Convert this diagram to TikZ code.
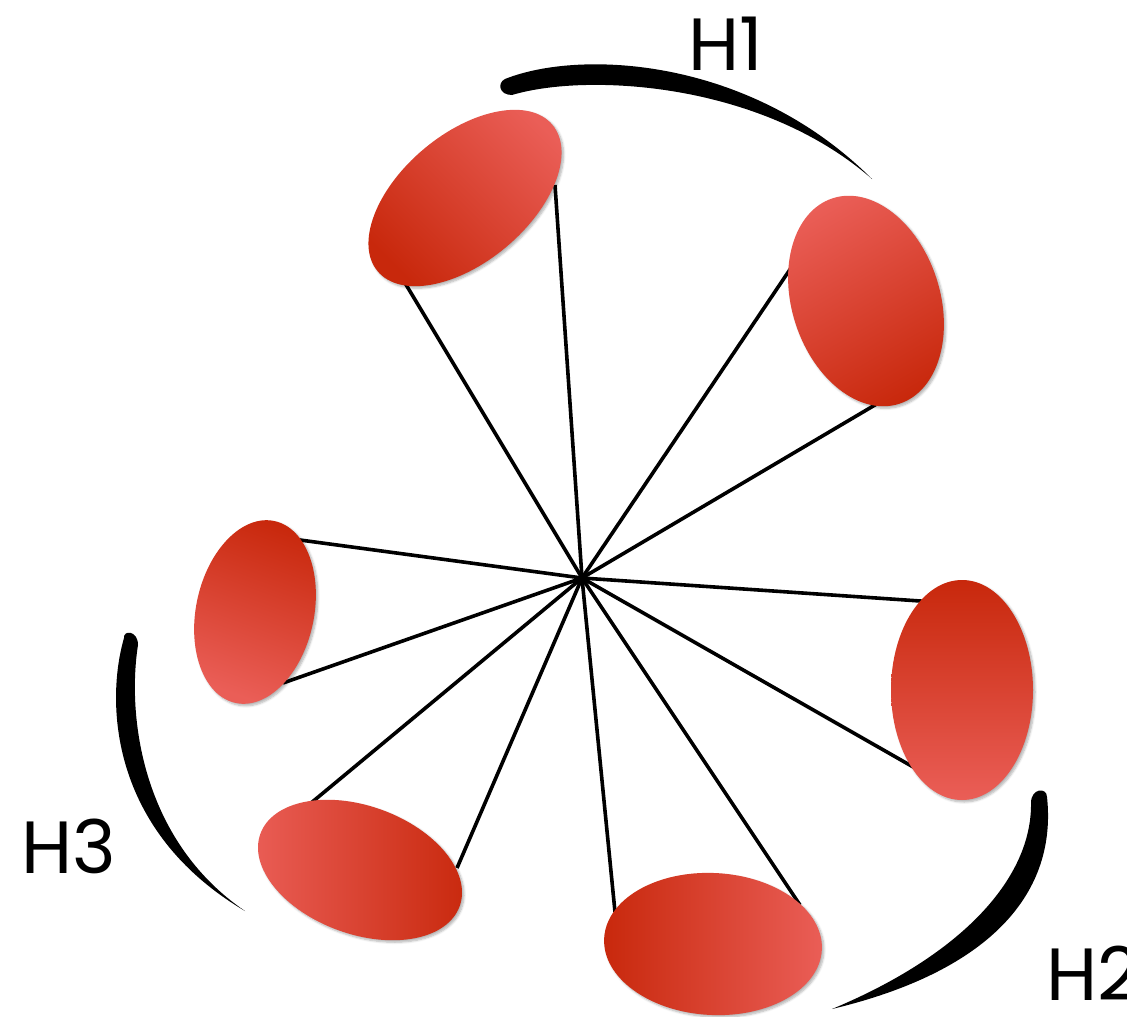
\documentclass[tikz,border=0pt]{standalone}
\usepackage{fontspec}
\setmainfont{Poppins}
\usetikzlibrary{shapes.geometric,shadows.blur}
\definecolor{petaldark}{HTML}{C8280C}
\definecolor{petallight}{HTML}{EA5E57}
\begin{document}
\begin{tikzpicture}[x=1pt,y=-1pt,
  spoke/.style={line width=3.6pt, black},
  petal/.style={ellipse, inner sep=0pt, draw=none,
    blur shadow={shadow xshift=2pt, shadow yshift=-2pt, shadow opacity=30, shadow blur steps=6}},
  % light side of the gradient points along the given angle
  glow/.style={top color=petallight, bottom color=petaldark, shading angle=#1},
  brush/.style={fill=black},
  label/.style={font=\fontsize{74}{80}\selectfont, inner sep=0pt, anchor=base west}]
\useasboundingbox (0,0) rectangle (1127,1017);

% hub and spoke ends
\coordinate (hub) at (582,578);
\coordinate (e1a) at (405,283); \coordinate (e1b) at (555,185);
\coordinate (e2a) at (795,262); \coordinate (e2b) at (880,402);
\coordinate (e3a) at (300,540); \coordinate (e3b) at (283,683);
\coordinate (e4a) at (935,602); \coordinate (e4b) at (915,768);
\coordinate (e5a) at (305,808); \coordinate (e5b) at (457,868);
\coordinate (e6a) at (615,912); \coordinate (e6b) at (800,905);

\foreach \p in {e1a,e1b,e2a,e2b,e3a,e3b,e4a,e4b,e5a,e5b,e6a,e6b}
  \draw[spoke] (hub) -- (\p);

% petals
\node[petal, glow=-45, minimum width=228pt, minimum height=128pt, rotate=40]  (e1) at (465,198) {};
\node[petal, glow=30,  minimum width=216pt, minimum height=148pt, rotate=108] (e2) at (866,301) {};
\node[petal, glow=160, minimum width=186pt, minimum height=118pt, rotate=78]  (e3) at (255,612) {};
\node[petal, glow=180, minimum width=220pt, minimum height=142pt, rotate=90]  (e4) at (962,690) {};
\node[petal, glow=90,  minimum width=212pt, minimum height=128pt, rotate=-20] (e5) at (360,870) {};
\node[petal, glow=-90, minimum width=218pt, minimum height=142pt, rotate=-3]  (e6) at (713,944) {};

% brush strokes: thick rounded head, tapering tail
\fill[brush] (505,79) .. controls (580,49) and (750,57) .. (872,179)
  .. controls (760,81) and (585,73) .. (512,95)
  .. controls (499,95) and (497,83) .. (505,79) -- cycle;

\fill[brush] (124,638) .. controls (106,700) and (108,830) .. (245,911)
  .. controls (141,840) and (127,715) .. (138,645)
  .. controls (138,630) and (123,630) .. (124,638) -- cycle;

\fill[brush] (1047,797) .. controls (1057,890) and (995,970) .. (832,1009)
  .. controls (964,954) and (1032,877) .. (1031,803)
  .. controls (1031,788) and (1047,787) .. (1047,797) -- cycle;

% labels
\node[label] (h1) at (688,70) {H1};
\node[label] (h3) at (21,873) {H3};
\node[label] (h2) at (1046,1000) {H2};
\end{tikzpicture}
\end{document}
